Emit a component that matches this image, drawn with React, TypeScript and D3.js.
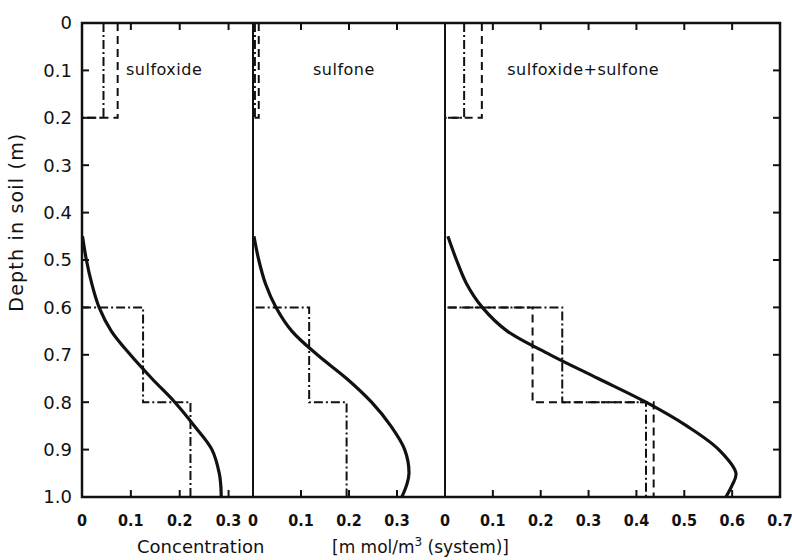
import React from 'react';
import * as d3 from 'd3';

// depth axis (m)
const depthTicks = [0, 0.1, 0.2, 0.3, 0.4, 0.5, 0.6, 0.7, 0.8, 0.9, 1.0];
const depthLabels = ['0', '0.1', '0.2', '0.3', '0.4', '0.5', '0.6', '0.7', '0.8', '0.9', '1.0'];

// soil layers used by the measured (step) profiles
const layerTops = [0, 0.2, 0.6, 0.8];
const layerBottoms = [0.2, 0.6, 0.8, 1.0];

// panels
const panelNames = ['sulfoxide', 'sulfone', 'sulfoxide+sulfone'];
const panelMax = [0.35, 0.4, 0.7];
const panelTicks = [
  [0, 0.1, 0.2, 0.3],
  [0, 0.1, 0.2, 0.3],
  [0, 0.1, 0.2, 0.3, 0.4, 0.5, 0.6, 0.7],
];
const panelTickLabels = [
  ['0', '0.1', '0.2', '0.3'],
  ['0', '0.1', '0.2', '0.3'],
  ['0', '0.1', '0.2', '0.3', '0.4', '0.5', '0.6', '0.7'],
];

// computed profiles (solid lines)
const curveDepth = [0.45, 0.5, 0.55, 0.6, 0.65, 0.7, 0.75, 0.8, 0.85, 0.9, 0.95, 0.975, 1.0];
const sulfoxideCurve = [0.001, 0.009, 0.02, 0.035, 0.06, 0.099, 0.143, 0.19, 0.23, 0.266, 0.281, 0.284, 0.285];
const sulfoneCurve = [0.002, 0.012, 0.026, 0.048, 0.081, 0.134, 0.195, 0.247, 0.287, 0.316, 0.325, 0.32, 0.31];
const totalCurve = [0.006, 0.024, 0.045, 0.078, 0.13, 0.22, 0.32, 0.42, 0.505, 0.572, 0.608, 0.6, 0.587];

// measured profiles per layer
const sulfoxideDashDot = [0.044, 0, 0.125, 0.222];
const sulfoxideDashed = [0.073, 0, 0, 0];
const sulfoneDashDot = [0.004, 0, 0.117, 0.195];
const sulfoneDashed = [0.012, 0, 0, 0];
const totalDashDot = [0.04, 0, 0.245, 0.42];
const totalDashed = [0.077, 0, 0.183, 0.436];

const curves = [sulfoxideCurve, sulfoneCurve, totalCurve];
const dashDots = [sulfoxideDashDot, sulfoneDashDot, totalDashDot];
const dasheds = [sulfoxideDashed, sulfoneDashed, totalDashed];

const W = 792;
const H = 560;
const panelLeft = [82, 253, 445];
const panelRight = [253, 445, 780];
const top = 23;
const bottom = 497;
const labelAt = [0.09, 0.125, 0.13];

const ink = '#111';
const tickFont = '"DejaVu Sans Condensed", "DejaVu Sans", sans-serif';
const textFont = '"DejaVu Sans", sans-serif';

function stepPoints(vals: number[]): [number, number][] {
  const pts: [number, number][] = [];
  vals.forEach((v, i) => {
    pts.push([v, layerTops[i]]);
    pts.push([v, layerBottoms[i]]);
  });
  return pts;
}

export default function App() {
  const y = d3.scaleLinear().domain([0, 1]).range([top, bottom]);
  const xs = panelMax.map((m, i) => d3.scaleLinear().domain([0, m]).range([panelLeft[i], panelRight[i]]));

  return (
    <svg width={W} height={H} style={{ position: 'absolute', left: 0, top: 0, background: '#fff' }}>
      {/* depth labels and ticks */}
      {depthTicks.map((d, i) => (
        <g key={'dy' + i}>
          <text x={72} y={y(d)} dy="0.36em" textAnchor="end" fontFamily={textFont} fontSize={18} fill={ink}>
            {depthLabels[i]}
          </text>
          {i > 0 && i < depthTicks.length - 1 && (
            <>
              <line x1={panelLeft[0]} x2={panelLeft[0] + 7} y1={y(d)} y2={y(d)} stroke={ink} strokeWidth={2} />
              <line x1={panelRight[2]} x2={panelRight[2] - 7} y1={y(d)} y2={y(d)} stroke={ink} strokeWidth={2} />
            </>
          )}
        </g>
      ))}
      <text
        transform={`translate(16,${y(0.42)}) rotate(-90)`}
        textAnchor="middle"
        dy="0.35em"
        fontFamily={textFont}
        fontSize={19}
        letterSpacing={1.2}
        fill={ink}
      >
        Depth in soil (m)
      </text>

      {panelNames.map((name, p) => {
        const x = xs[p];
        const line = d3
          .line<number>()
          .x((c) => x(c))
          .y((_, i) => y(curveDepth[i]))
          .curve(d3.curveCatmullRom.alpha(0.5));
        const step = d3
          .line<[number, number]>()
          .x((pt) => x(pt[0]))
          .y((pt) => y(pt[1]));
        return (
          <g key={name}>
            {/* axis ticks top/bottom */}
            {panelTicks[p].map((t, i) => (
              <g key={'t' + i}>
                {t > 0 && t < panelMax[p] && (
                  <>
                    <line x1={x(t)} x2={x(t)} y1={top} y2={top + 7} stroke={ink} strokeWidth={2} />
                    <line x1={x(t)} x2={x(t)} y1={bottom} y2={bottom - 7} stroke={ink} strokeWidth={2} />
                  </>
                )}
                <text
                  x={x(t)}
                  y={520}
                  dy="0.36em"
                  textAnchor="middle"
                  fontFamily={tickFont}
                  fontWeight="bold"
                  fontSize={16}
                  fill={ink}
                >
                  {panelTickLabels[p][i]}
                </text>
              </g>
            ))}
            {/* measured profiles */}
            <path
              d={step(stepPoints(dasheds[p])) || ''}
              fill="none"
              stroke={ink}
              strokeWidth={2}
              strokeDasharray="8 5"
            />
            <path
              d={step(stepPoints(dashDots[p])) || ''}
              fill="none"
              stroke={ink}
              strokeWidth={2}
              strokeDasharray="9 3 2 3"
            />
            {/* computed profile */}
            <path d={line(curves[p]) || ''} fill="none" stroke={ink} strokeWidth={3.2} />
            <text x={x(labelAt[p])} y={y(0.11)} fontFamily={textFont} fontSize={16} letterSpacing={0.5} fill={ink}>
              {name}
            </text>
            {/* panel left axis */}
            <line x1={x(0)} x2={x(0)} y1={top} y2={bottom} stroke={ink} strokeWidth={2} />
          </g>
        );
      })}

      {/* frame */}
      <rect
        x={panelLeft[0]}
        y={top}
        width={panelRight[2] - panelLeft[0]}
        height={bottom - top}
        fill="none"
        stroke={ink}
        strokeWidth={2.5}
      />

      <text x={137} y={553} fontFamily={textFont} fontSize={18} fill={ink}>
        Concentration
      </text>
      <text x={332} y={553} fontFamily={textFont} fontSize={17} fill={ink}>
        [m mol/m
        <tspan dy={-7} fontSize={12}>3</tspan>
        <tspan dy={7}> (system)]</tspan>
      </text>
    </svg>
  );
}
